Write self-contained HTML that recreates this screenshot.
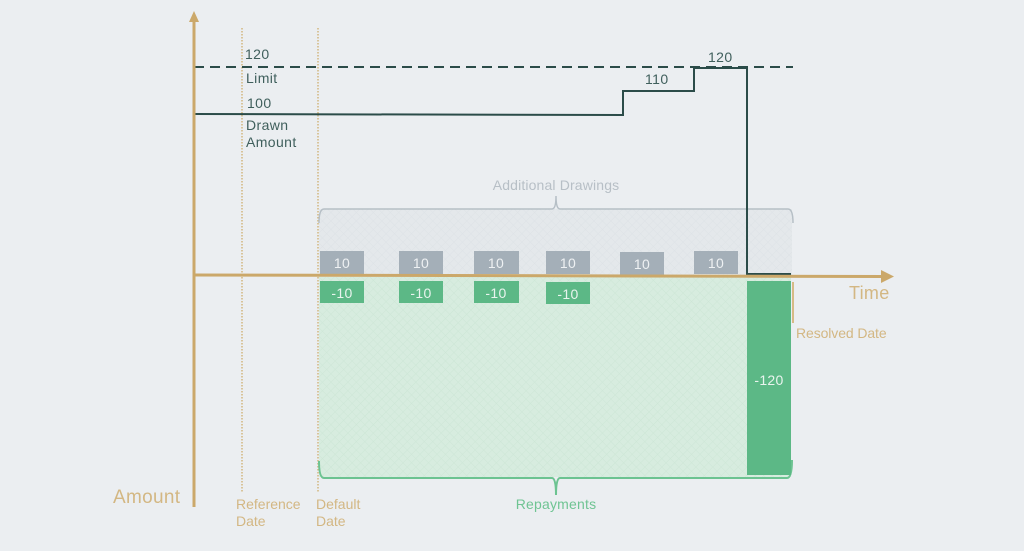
<!DOCTYPE html>
<html>
<head>
<meta charset="utf-8">
<style>
html,body{margin:0;padding:0;background:#ebeef1;}
svg{display:block;}
text{font-family:"Liberation Sans",sans-serif;}
</style>
</head>
<body>
<svg width="1024" height="551" viewBox="0 0 1024 551" xmlns="http://www.w3.org/2000/svg">
<defs>
<pattern id="hg" width="6" height="6" patternUnits="userSpaceOnUse" patternTransform="rotate(45)">
<rect width="6" height="6" fill="#e4e8eb"/>
<line x1="0" y1="0" x2="0" y2="6" stroke="#dde2e6" stroke-width="1"/>
<line x1="0" y1="0" x2="6" y2="0" stroke="#dde2e6" stroke-width="1"/>
</pattern>
<pattern id="hgr" width="6" height="6" patternUnits="userSpaceOnUse" patternTransform="rotate(45)">
<rect width="6" height="6" fill="#d7ecdf"/>
<line x1="0" y1="0" x2="0" y2="6" stroke="#cde6d6" stroke-width="1"/>
<line x1="0" y1="0" x2="6" y2="0" stroke="#cde6d6" stroke-width="1"/>
</pattern>
</defs>
<rect width="1024" height="551" fill="#ebeef1"/>

<!-- hatched regions -->
<rect x="319" y="209" width="473" height="66" fill="url(#hg)"/>
<rect x="319" y="277" width="472" height="200" fill="url(#hgr)"/>

<!-- dotted date lines -->
<line x1="242" y1="28" x2="242" y2="492" stroke="#d2b67f" stroke-width="1.5" stroke-dasharray="1.5,1.5"/>
<line x1="318" y1="28" x2="318" y2="492" stroke="#d2b67f" stroke-width="1.5" stroke-dasharray="1.5,1.5"/>

<!-- Additional drawings brace -->
<path d="M319,223 Q319,209 324,209 L552,209 Q556,209 556,196 Q556,209 560,209 L788,209 Q793,209 793,223" fill="none" stroke="#b6bfc6" stroke-width="1.5"/>
<text x="556" y="190" font-size="14" letter-spacing="0.15" fill="#b7bfc6" text-anchor="middle">Additional Drawings</text>

<!-- Repayments brace -->
<path d="M319,461 Q319,478 324,478 L552,478 Q556,478 556,495 Q556,478 560,478 L787,478 Q792,478 792,460" fill="none" stroke="#6cc391" stroke-width="2"/>
<text x="556" y="509" font-size="14" letter-spacing="0.2" fill="#6fc493" text-anchor="middle">Repayments</text>

<!-- limit dashed -->
<line x1="194" y1="67" x2="793" y2="67" stroke="#2b4c49" stroke-width="2" stroke-dasharray="10,6"/>

<!-- drawn amount step line -->
<polyline points="194,114 623,115 623,91 694,91 694,68 747,68 747,274 791,274" fill="none" stroke="#2b4c49" stroke-width="2"/>

<!-- gray boxes -->
<g fill="#a4afb8">
<rect x="320" y="251" width="44" height="23"/>
<rect x="399" y="251" width="44" height="23"/>
<rect x="474" y="251" width="45" height="23"/>
<rect x="546" y="251" width="44" height="23"/>
<rect x="620" y="252" width="44" height="23"/>
<rect x="694" y="251" width="44" height="23"/>
</g>
<g fill="#eef1f3" font-size="14" letter-spacing="0.3" text-anchor="middle">
<text x="342" y="268">10</text>
<text x="421" y="268">10</text>
<text x="496" y="268">10</text>
<text x="568" y="268">10</text>
<text x="642" y="269">10</text>
<text x="716" y="268">10</text>
</g>

<!-- green boxes -->
<g fill="#5cb886">
<rect x="320" y="281" width="44" height="22"/>
<rect x="399" y="281" width="44" height="22"/>
<rect x="474" y="281" width="45" height="22"/>
<rect x="546" y="282" width="44" height="22"/>
<rect x="747" y="281" width="44" height="194"/>
</g>
<g fill="#e9f4ee" font-size="14" letter-spacing="0.3" text-anchor="middle">
<text x="342" y="298">-10</text>
<text x="421" y="298">-10</text>
<text x="496" y="298">-10</text>
<text x="568" y="299">-10</text>
<text x="769" y="385">-120</text>
</g>

<!-- axes -->
<line x1="194" y1="20" x2="194" y2="507" stroke="#cba86a" stroke-width="3"/>
<polygon points="194,11 189,22 199,22" fill="#cba86a"/>
<line x1="194" y1="275" x2="882" y2="276.5" stroke="#cba86a" stroke-width="3"/>
<polygon points="894,276.5 881,270 881,283" fill="#cba86a"/>

<!-- resolved date tick -->
<line x1="793" y1="282" x2="793" y2="323" stroke="#d6ba86" stroke-width="2"/>

<!-- labels -->
<g fill="#3f5f5c" font-size="14" letter-spacing="0.4">
<text x="245" y="59">120</text>
<text x="246" y="83">Limit</text>
<text x="247" y="108">100</text>
<text x="246" y="130">Drawn</text>
<text x="246" y="147">Amount</text>
<text x="645" y="84">110</text>
<text x="708" y="62">120</text>
</g>
<g fill="#d3b783">
<text x="849" y="299" font-size="18" letter-spacing="0.3">Time</text>
<text x="113" y="503" font-size="19" letter-spacing="0.3">Amount</text>
<text x="796" y="338" font-size="14" letter-spacing="-0.1">Resolved Date</text>
<text x="236" y="509" font-size="14" letter-spacing="0">Reference</text>
<text x="236" y="526" font-size="14" letter-spacing="0">Date</text>
<text x="316" y="509" font-size="14" letter-spacing="0">Default</text>
<text x="316" y="526" font-size="14" letter-spacing="0">Date</text>
</g>
</svg>
</body>
</html>
